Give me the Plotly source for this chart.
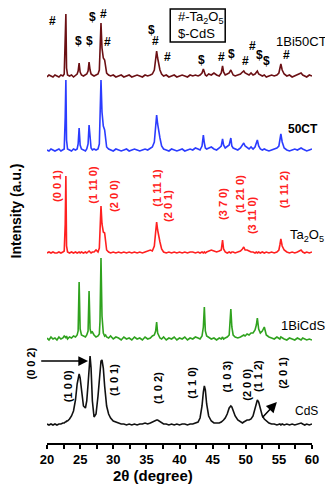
import plotly.graph_objects as go

# 2theta grid shared by all patterns (degrees)
two_theta = [
    20.0, 20.3, 20.6, 20.9, 21.2, 21.5, 21.8, 22.1, 22.4, 22.6,
    22.75, 22.85, 22.95, 23.1, 23.4, 23.7, 24.0, 24.3, 24.55, 24.7,
    24.85, 25.0, 25.2, 25.5, 25.8, 26.0, 26.2, 26.35, 26.5, 26.65,
    26.85, 27.1, 27.4, 27.7, 27.9, 28.0, 28.15, 28.3, 28.5, 28.7,
    28.85, 29.0, 29.3, 29.6, 30.0, 30.4, 30.8, 31.2, 31.6, 32.0,
    32.4, 32.8, 33.2, 33.6, 34.0, 34.4, 34.8, 35.2, 35.6, 35.9,
    36.2, 36.4, 36.55, 36.7, 36.9, 37.05, 37.3, 37.6, 38.0, 38.4,
    38.8, 39.2, 39.6, 40.0, 40.4, 40.8, 41.2, 41.6, 42.0, 42.4,
    42.8, 43.1, 43.4, 43.6, 43.75, 43.9, 44.1, 44.4, 44.8, 45.2,
    45.6, 46.0, 46.3, 46.5, 46.65, 46.9, 47.2, 47.5, 47.75, 47.9,
    48.1, 48.4, 48.8, 49.2, 49.5, 49.7, 49.9, 50.2, 50.5, 50.8,
    51.1, 51.4, 51.6, 51.75, 51.95, 52.2, 52.5, 52.8, 53.1, 53.5,
    53.9, 54.3, 54.7, 55.0, 55.15, 55.3, 55.5, 55.8, 56.2, 56.6,
    57.0, 57.4, 57.8, 58.1, 58.35, 58.6, 58.9, 59.2, 59.6, 60.0,
]

# intensities (a.u.) above each pattern's own baseline
bi50ct = [
    1, 3, 2, 1, 3, 2, 1, 3, 2, 4,
    30, 64, 10, 3, 2, 3, 1, 3, 4, 7,
    15, 6, 3, 2, 3, 4, 7, 16, 8, 4,
    3, 2, 3, 4, 8, 25, 55, 30, 20, 18,
    9, 5, 3, 2, 3, 1, 2, 3, 1, 2,
    3, 1, 2, 3, 2, 1, 3, 2, 3, 4,
    8, 18, 27, 20, 13, 8, 4, 2, 3, 1,
    2, 3, 1, 2, 3, 2, 1, 3, 2, 3,
    2, 3, 5, 9, 6, 3, 2, 4, 3, 5,
    3, 2, 5, 12, 6, 3, 4, 5, 8, 5,
    3, 2, 3, 4, 6, 7, 5, 4, 3, 5,
    3, 4, 6, 7, 4, 3, 2, 3, 1, 2,
    3, 2, 3, 5, 9, 14, 8, 4, 2, 3,
    1, 2, 3, 4, 5, 3, 2, 1, 3, 2,
]
ct50 = [
    2, 1, 3, 2, 1, 2, 3, 1, 2, 3,
    35, 72, 12, 3, 2, 1, 3, 2, 3, 8,
    24, 7, 3, 2, 1, 3, 8, 27, 10, 4,
    2, 3, 2, 3, 8, 30, 72, 40, 26, 22,
    10, 5, 3, 2, 1, 3, 2, 1, 2, 3,
    1, 2, 3, 2, 1, 2, 3, 2, 4, 5,
    10, 25, 37, 28, 18, 14, 6, 3, 2, 1,
    3, 2, 1, 2, 3, 1, 2, 3, 2, 4,
    3, 2, 6, 17, 9, 4, 3, 4, 5, 3,
    2, 4, 6, 13, 7, 4, 6, 7, 14, 6,
    4, 3, 2, 4, 7, 9, 6, 4, 3, 5,
    3, 5, 8, 12, 6, 3, 2, 3, 2, 1,
    2, 3, 4, 6, 12, 18, 10, 4, 2, 1,
    2, 3, 2, 3, 4, 3, 2, 1, 2, 3,
]
ta2o5 = [
    1, 2, 1, 2, 1, 1, 2, 1, 2, 3,
    30, 78, 8, 2, 1, 2, 1, 2, 1, 2,
    2, 1, 2, 1, 2, 1, 2, 3, 2, 1,
    2, 2, 4, 2, 6, 20, 48, 30, 22, 21,
    9, 4, 2, 1, 2, 1, 2, 1, 2, 1,
    2, 1, 2, 1, 2, 1, 2, 3, 4, 3,
    8, 22, 32, 24, 16, 12, 5, 2, 1, 2,
    1, 2, 1, 2, 1, 2, 1, 2, 2, 1,
    2, 1, 2, 1, 2, 1, 2, 3, 4, 3,
    2, 3, 4, 14, 5, 2, 1, 2, 1, 2,
    2, 1, 2, 3, 5, 7, 4, 4, 3, 2,
    2, 1, 2, 1, 2, 1, 2, 1, 2, 1,
    2, 1, 2, 4, 9, 15, 8, 4, 2, 1,
    2, 1, 2, 3, 4, 2, 1, 2, 1, 2,
]
bicds = [
    3, 1, 4, 2, 3, 1, 4, 2, 3, 5,
    4, 3, 5, 2, 4, 3, 5, 4, 6, 10,
    59, 12, 6, 5, 4, 6, 10, 50, 12, 8,
    9, 6, 4, 5, 7, 20, 83, 25, 8, 5,
    6, 4, 3, 5, 2, 4, 3, 1, 4, 2,
    3, 1, 4, 2, 3, 1, 4, 2, 3, 5,
    6, 10, 19, 8, 4, 3, 2, 4, 1, 3,
    2, 4, 1, 3, 2, 4, 1, 3, 2, 4,
    3, 2, 5, 14, 34, 10, 5, 4, 2, 3,
    1, 3, 2, 4, 2, 3, 4, 6, 32, 14,
    6, 4, 3, 4, 5, 6, 5, 7, 6, 8,
    8, 11, 16, 23, 12, 8, 10, 14, 6, 4,
    3, 2, 4, 3, 2, 4, 3, 2, 1, 3,
    2, 1, 3, 2, 1, 3, 2, 1, 2, 1,
]
cds = [
    2, 1, 2, 1, 2, 1, 2, 2, 3, 3,
    4, 4, 5, 5, 7, 10, 15, 26, 42, 50,
    52, 48, 35, 20, 18, 25, 42, 62, 70, 58,
    25, 9, 12, 30, 50, 58, 65, 66, 58, 40,
    28, 20, 12, 8, 5, 4, 3, 2, 2, 1,
    2, 1, 2, 1, 2, 2, 3, 2, 3, 4,
    5, 6, 6, 6, 5, 4, 3, 2, 2, 1,
    2, 1, 2, 1, 2, 2, 1, 2, 2, 3,
    4, 8, 20, 34, 40, 36, 22, 10, 5, 3,
    3, 3, 4, 5, 6, 8, 12, 18, 20, 19,
    15, 10, 6, 4, 3, 4, 5, 6, 6, 7,
    10, 18, 24, 26, 24, 16, 10, 7, 5, 3,
    2, 2, 1, 2, 2, 1, 2, 1, 2, 1,
    2, 1, 2, 3, 3, 2, 1, 2, 1, 2,
]

samples = ["1Bi50CT", "50CT", "Ta<sub>2</sub>O<sub>5</sub>", "1BiCdS", "CdS"]
offsets = [365, 291, 189, 102, 17]
colors = ["#6B1014", "#2B3CFF", "#FF2020", "#2FA21E", "#111111"]

# hkl labels
ta_hkl = ["(0 0 1)", "(1 11 0)", "(2 0 0)", "(1 11 1)", "(2 0 1)",
          "(3 7 0)", "(1 21 0)", "(3 11 0)", "(1 11 2)"]
ta_hkl_pos = [(21.5, 257), (26.9, 258), (30.1, 247), (36.55, 255), (38.25, 237),
              (46.55, 239), (49.15, 249), (50.95, 228), (55.8, 254)]
cds_hkl = ["(1 0 0)", "(1 0 1)", "(1 0 2)", "(1 1 0)", "(1 0 3)",
           "(2 0 0)", "(1 1 2)", "(2 0 1)"]
cds_hkl_pos = [(23.2, 57), (30.1, 63), (36.75, 55), (41.85, 60), (47.1, 66),
               (50.15, 58), (51.85, 67), (55.6, 70)]
phase_marks = ["#", "$", "$", "$", "#", "#", "$", "#", "#", "$",
               "#", "$", "#", "#", "$", "$", "#"]
phase_pos = [(20.85, 422), (24.7, 402), (26.35, 402), (26.9, 426), (28.6, 429),
             (29.15, 401), (35.7, 413), (36.45, 402), (38.2, 386), (43.25, 383),
             (46.35, 386), (47.9, 389), (50.0, 382), (50.95, 397), (52.15, 388),
             (53.15, 382), (56.2, 388)]

fig = go.Figure()
for name, vals, off, col in zip(samples, [bi50ct, ct50, ta2o5, bicds, cds], offsets, colors):
    fig.add_trace(go.Scatter(x=two_theta, y=[v + off for v in vals], mode="lines",
                             line=dict(color=col, width=1.6), name=name, showlegend=False))

ann = []
font = "Arial, Liberation Sans, sans-serif"
# sample names on the right (paper coords)
name_pos = [(0.962, 0.922, 13, "normal"), (0.966, 0.721, 12, "bold"), (0.98, 0.476, 13, "normal"),
            (0.966, 0.270, 13, "normal"), (0.978, 0.073, 12, "normal")]
for name, (x, y, s, w) in zip(samples, name_pos):
    ann.append(dict(x=x, y=y, xref="paper", yref="paper", text=name, showarrow=False,
                    xanchor="center", yanchor="middle",
                    font=dict(size=s, color="black", family=font, weight=w)))
for t, (x, y) in zip(ta_hkl, ta_hkl_pos):
    ann.append(dict(x=x, y=y, text=t, textangle=-90, showarrow=False,
                    font=dict(size=11, color="#FF2020", family=font, weight="bold")))
for t, (x, y) in zip(cds_hkl, cds_hkl_pos):
    ann.append(dict(x=x, y=y, text=t, textangle=-90, showarrow=False,
                    font=dict(size=11, color="black", family=font, weight="bold")))
for t, (x, y) in zip(phase_marks, phase_pos):
    ann.append(dict(x=x, y=y, text=t, showarrow=False,
                    font=dict(size=12, color="black", family=font, weight="bold")))
# (0 0 2) with arrow
ann.append(dict(x=-0.06, y=0.183, xref="paper", yref="paper", text="(0 0 2)", textangle=-90,
                xanchor="center", yanchor="middle", showarrow=False,
                font=dict(size=11, color="black", family=font, weight="bold")))
ann.append(dict(x=26.2, y=82, ax=18.9, ay=82, axref="x", ayref="y", text="",
                showarrow=True, arrowhead=2, arrowsize=1.3, arrowwidth=1.5, arrowcolor="black"))
ann.append(dict(x=54.7, y=41, ax=52.3, ay=24, axref="x", ayref="y", text="",
                showarrow=True, arrowhead=2, arrowsize=1.4, arrowwidth=1.5, arrowcolor="black"))
# phase key
ann.append(dict(x=39.4, y=426, text="#-Ta<sub>2</sub>O<sub>5</sub>", showarrow=False, xanchor="left",
                yanchor="middle", font=dict(size=13, color="black", family=font)))
ann.append(dict(x=39.4, y=410, text="$-CdS", showarrow=False, xanchor="left",
                yanchor="middle", font=dict(size=13, color="black", family=font)))
# axis titles
ann.append(dict(x=-0.116, y=0.533, xref="paper", yref="paper", text="Intensity (a.u.)",
                textangle=-90, showarrow=False, xanchor="center", yanchor="middle",
                font=dict(size=14, color="black", family=font, weight="bold")))
ann.append(dict(x=0.40, y=-0.075, xref="paper", yref="paper", text="2θ (degree)",
                showarrow=False, xanchor="center", yanchor="middle",
                font=dict(size=15, color="black", family=font, weight="bold")))

# page body has an 8px margin, so the figure is a bit smaller than the window
fig.update_layout(
    width=325, height=480,
    margin=dict(l=39, r=21, t=0, b=45),
    plot_bgcolor="white", paper_bgcolor="white",
    annotations=ann,
    shapes=[dict(type="rect", x0=38.6, x1=46.9, y0=401, y1=434,
                 line=dict(color="black", width=1.5))],
)
fig.update_xaxes(range=[20, 60], showgrid=False, zeroline=False, showline=True,
                 linecolor="black", linewidth=1.5, ticks="outside", ticklen=4,
                 tickwidth=1.5, tickcolor="black", dtick=5, tick0=20,
                 minor=dict(ticks="outside", ticklen=4, tickwidth=1.5, dtick=2.5, tickcolor="black"),
                 tickfont=dict(size=13, color="black", family=font, weight="bold"))
fig.update_yaxes(range=[0, 435], visible=False)

fig.write_html("out.html")
